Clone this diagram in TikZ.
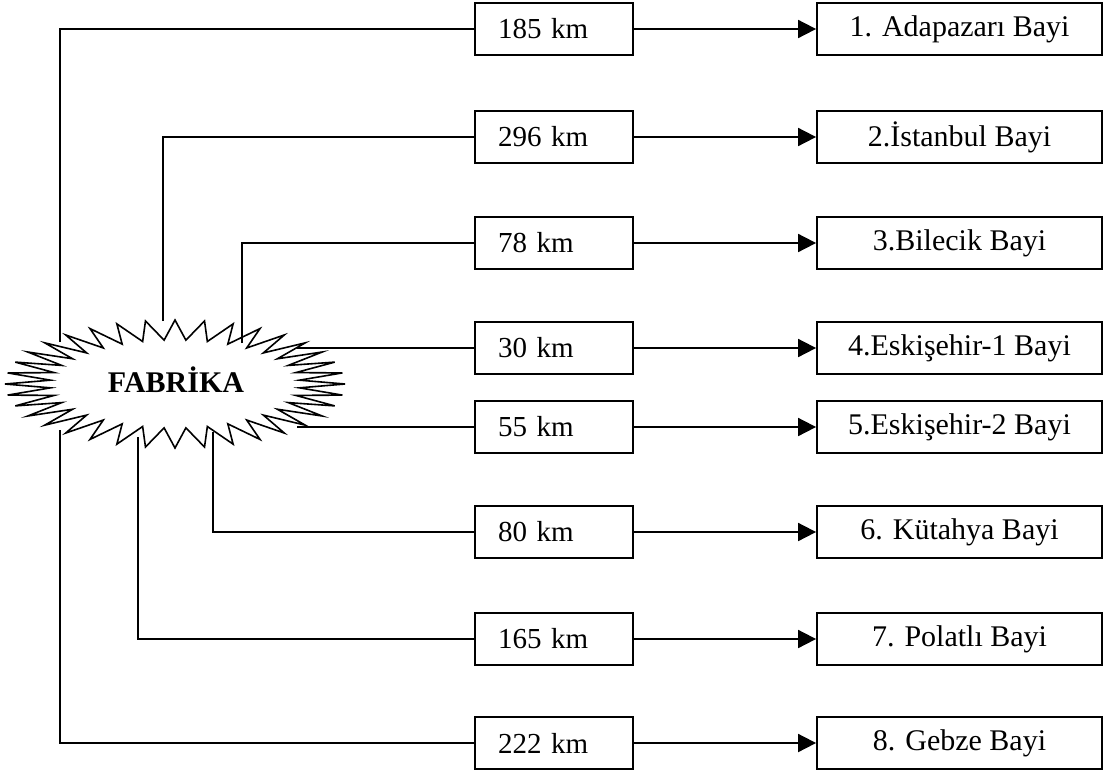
\documentclass[tikz,border=0pt]{standalone}
\usepackage{fontspec}
\setmainfont{Liberation Serif}
\usetikzlibrary{arrows.meta}
\tikzset{
  lw/.style={line width=1.8pt},
  kmbox/.style={draw, lw, minimum height=52pt, text width=112pt, inner xsep=23pt, inner ysep=0pt, align=left, font=\fontsize{29}{31}\selectfont},
  baybox/.style={draw, lw, minimum width=285pt, minimum height=52pt, inner sep=0pt, font=\fontsize{30}{32}\selectfont},
  conn/.style={lw},
  arr/.style={lw, -{Triangle[length=18pt,width=18pt]}},
  burst/.style={line width=1.6pt, line join=miter, fill=white}
}
\begin{document}
\begin{tikzpicture}[x=1pt,y=-1pt]
\useasboundingbox (0,0) rectangle (1105,769);
% starburst
\draw[burst] (345,384) \foreach \a in {0,10,...,350} {
  -- ({175+125*cos(\a+5)},{384+44*sin(\a+5)})
  -- ({175+170*cos(\a+10)},{384+64*sin(\a+10)}) } -- cycle;
\node[font=\fontsize{30}{32}\selectfont\bfseries] (fab) at (176,380) {FABRİKA};
% attach points
\coordinate (c1) at (60,342);
\coordinate (c2) at (163,321);
\coordinate (c3) at (242,343);
\coordinate (c4) at (297,348);
\coordinate (c5) at (297,427);
\coordinate (c6) at (213,432);
\coordinate (c7) at (138,437);
\coordinate (c8) at (60,430);
% boxes
\foreach \i/\y/\km/\bay in {
  1/29/185 km/1. Adapazarı Bayi,
  2/137/296 km/2.İstanbul Bayi,
  3/243/78 km/3.Bilecik Bayi,
  4/348/30 km/4.Eskişehir-1 Bayi,
  5/427/55 km/5.Eskişehir-2 Bayi,
  6/532/80 km/6. Kütahya Bayi,
  7/639/165 km/7. Polatlı Bayi,
  8/743/222 km/8. Gebze Bayi}{
  \node[kmbox] (k\i) at (554,\y) {\km};
  \node[baybox] (b\i) at (959.5,\y) {\bay};
  \draw[arr] (k\i.east) -- (b\i.west);
  \draw[conn] (c\i) |- (k\i.west);
}
\end{tikzpicture}
\end{document}
